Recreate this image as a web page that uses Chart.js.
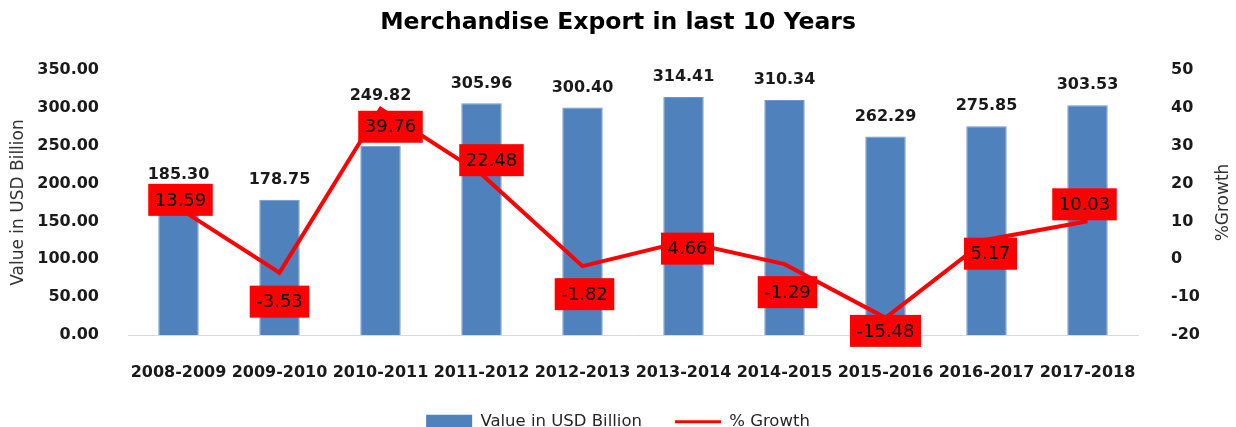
<!DOCTYPE html>
<html>
<head>
<meta charset="utf-8">
<title>Merchandise Export in last 10 Years</title>
<script src="https://cdn.jsdelivr.net/npm/chart.js@4.4.0/dist/chart.umd.min.js"></script>
<style>
  html, body { margin: 0; padding: 0; background: #fff; overflow: hidden; }
  #wrap { width: 1236px; height: 440px; position: relative; }
</style>
</head>
<body>
<div id="wrap"><canvas id="exportChart"></canvas></div>
<script>
var years = ["2008-2009", "2009-2010", "2010-2011", "2011-2012", "2012-2013",
             "2013-2014", "2014-2015", "2015-2016", "2016-2017", "2017-2018"];
var exportValue = [185.30, 178.75, 249.82, 305.96, 300.40, 314.41, 310.34, 262.29, 275.85, 303.53];
var growth = [13.59, -3.53, 39.76, 22.48, -1.82, 4.66, -1.29, -15.48, 5.17, 10.03];
var valueTicks = [0, 50, 100, 150, 200, 250, 300, 350];
var growthTicks = [-20, -10, 0, 10, 20, 30, 40, 50];

// label nudges in px, same as the excel layout
var valueLabelLift = [20, 20, 50, 20, 20, 20, 20, 20, 20, 20];
var growthLabelShift = [[2, -8], [0, 29], [10, 18], [10, -14], [2, 28], [4, 7], [3, 28], [0, 13], [4, 14], [-3, -17]];

var tickFont = { family: '"DejaVu Sans"', size: 16, weight: 'bold' };

var dataLabels = {
    id: 'dataLabels',
    afterDatasetsDraw: function(chart) {
        var ctx = chart.ctx;
        var bars = chart.getDatasetMeta(0).data;
        var points = chart.getDatasetMeta(1).data;
        ctx.save();
        ctx.textAlign = 'center';
        ctx.textBaseline = 'middle';

        // values above bars
        ctx.font = 'bold 16px "DejaVu Sans"';
        ctx.fillStyle = '#1a1a1a';
        bars.forEach(function(bar, i) {
            ctx.fillText(exportValue[i].toFixed(2), bar.x, bar.y - valueLabelLift[i]);
        });

        // red boxes for growth
        ctx.font = '18px "DejaVu Sans"';
        points.forEach(function(pt, i) {
            var txt = growth[i].toFixed(2);
            var w = ctx.measureText(txt).width + 13;
            var h = 32;
            var cx = pt.x + growthLabelShift[i][0];
            var cy = pt.y + growthLabelShift[i][1];
            ctx.fillStyle = '#ff0000';
            ctx.fillRect(cx - w / 2, cy - h / 2, w, h);
            ctx.fillStyle = '#000';
            ctx.fillText(txt, cx, cy + 1);
        });

        // right axis title reads bottom to top
        var y1 = chart.scales.y1;
        ctx.translate(y1.right - 12, (y1.top + y1.bottom) / 2);
        ctx.rotate(-Math.PI / 2);
        ctx.font = '17px "DejaVu Sans"';
        ctx.fillStyle = '#333';
        ctx.fillText('%Growth', 0, 0);
        ctx.restore();
    }
};

var chart = new Chart(document.getElementById('exportChart'), {
    type: 'bar',
    data: {
        labels: years,
        datasets: [{
            type: 'bar',
            label: 'Value in USD Billion',
            data: exportValue,
            backgroundColor: '#4f81bd',
            borderColor: '#6f97cc',
            borderWidth: 1,
            barPercentage: 0.4,
            categoryPercentage: 1,
            yAxisID: 'y',
            order: 1
        }, {
            type: 'line',
            label: '% Growth',
            data: growth,
            borderColor: '#ff0000',
            backgroundColor: '#ff0000',
            borderWidth: 4,
            pointRadius: 0,
            tension: 0,
            yAxisID: 'y1',
            order: 0
        }]
    },
    options: {
        responsive: true,
        maintainAspectRatio: false,
        animation: false,
        devicePixelRatio: 1,
        layout: { padding: 0 },
        plugins: {
            tooltip: { enabled: false },
            title: {
                display: true,
                text: 'Merchandise Export in last 10 Years',
                color: '#000',
                font: { family: '"DejaVu Sans"', size: 23.5, weight: 'bold' },
                padding: { top: 9, bottom: 32.8 }
            },
            legend: {
                position: 'bottom',
                labels: {
                    usePointStyle: true,
                    pointStyleWidth: 46,
                    boxHeight: 14,
                    padding: 33,
                    color: '#262626',
                    font: { family: '"DejaVu Sans"', size: 16.5 },
                    generateLabels: function(chart) {
                        return [{
                            text: 'Value in USD Billion', fillStyle: '#4f81bd', strokeStyle: '#4f81bd',
                            lineWidth: 0, pointStyle: 'rect', datasetIndex: 0, hidden: false, fontColor: '#262626'
                        }, {
                            text: '% Growth', fillStyle: '#ff0000', strokeStyle: '#ff0000',
                            lineWidth: 3, pointStyle: 'line', datasetIndex: 1, hidden: false, fontColor: '#262626'
                        }];
                    }
                }
            }
        },
        scales: {
            x: {
                grid: { display: false },
                border: { display: true, color: '#d9d9d9', width: 1 },
                ticks: { font: tickFont, color: '#1a1a1a', padding: 20, maxRotation: 0, autoSkip: false },
                afterFit: function(scale) { scale.height = 45.5; }
            },
            y: {
                position: 'left',
                min: 0,
                max: 350,
                grid: { display: false },
                border: { display: false },
                afterBuildTicks: function(scale) {
                    scale.ticks = valueTicks.map(function(v) { return { value: v }; });
                },
                ticks: {
                    font: tickFont, color: '#1a1a1a', padding: 21,
                    callback: function(v) { return Number(v).toFixed(2); }
                },
                title: {
                    display: true,
                    text: 'Value in USD Billion',
                    color: '#333',
                    font: { family: '"DejaVu Sans"', size: 17 },
                    padding: { top: 8, bottom: 0 }
                },
                afterFit: function(scale) { scale.width = 128; }
            },
            y1: {
                position: 'right',
                min: -20,
                max: 50,
                grid: { display: false },
                border: { display: false },
                afterBuildTicks: function(scale) {
                    scale.ticks = growthTicks.map(function(v) { return { value: v }; });
                },
                ticks: { font: tickFont, color: '#1a1a1a', padding: 25 },
                afterFit: function(scale) { scale.width = 98; }
            }
        }
    },
    plugins: [dataLabels]
});
</script>
</body>
</html>
